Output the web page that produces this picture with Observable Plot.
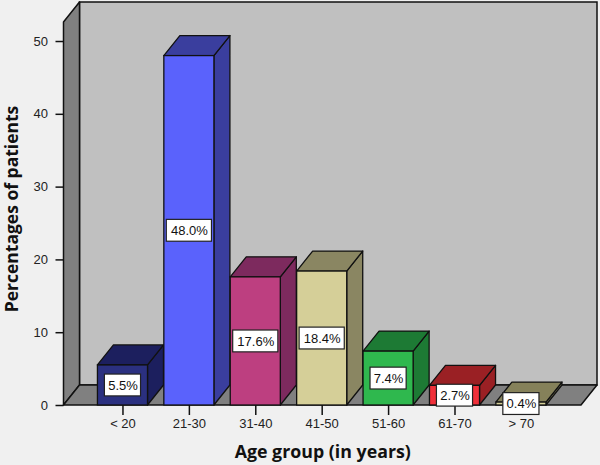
<!DOCTYPE html>
<html>
<head>
<meta charset="utf-8">
<script src="https://cdn.jsdelivr.net/npm/d3@7"></script>
<script src="https://cdn.jsdelivr.net/npm/@observablehq/plot@0.6"></script>
<style>
html,body{margin:0;padding:0;background:#f0f0f0;}
svg{display:block;}
</style>
</head>
<body>
<div id="chart"></div>
<script>
const categories = ["< 20","21-30","31-40","41-50","51-60","61-70","> 70"];
const values = [5.5,48.0,17.6,18.4,7.4,2.7,0.4];
const frontColors = ["#2b3080","#5a62fc","#bd3f80","#d5cf98","#2fb84e","#f0303a","#d5cf98"];
const darkColors = ["#1c1f5e","#3a3e9e","#7d2a5e","#8a8662","#1d7a34","#9a2024","#85815a"];
const yTicks = [0,10,20,30,40,50];

const halfBar = 0.377, depthX = 0.241, depthY = 2.75;
const xMin = -0.888, xMax = 7.146, yMax = 55.36;
const edge = "#111";

const bars = values.map((v,i)=>({i,v,cat:categories[i],front:frontColors[i],dark:darkColors[i],
  l:i-halfBar,r:i+halfBar,label:v.toFixed(1)+"%"}));
const sides = bars.flatMap(b=>[
  {i:b.i,fill:b.dark,x:b.r,y1:0,y2:b.v},
  {i:b.i,fill:b.dark,x:b.r+depthX,y1:depthY,y2:b.v+depthY}]);
const tops = bars.flatMap(b=>[
  {i:b.i,fill:b.dark,y:b.v,x1:b.l,x2:b.r},
  {i:b.i,fill:b.dark,y:b.v+depthY,x1:b.l+depthX,x2:b.r+depthX}]);
const leftWall = [
  {x:xMin,y1:0,y2:yMax-depthY},
  {x:xMin+depthX,y1:depthY,y2:yMax}];
const floor = [
  {y:0,x1:xMin,x2:xMax-depthX},
  {y:depthY,x1:xMin+depthX,x2:xMax}];

const chart = Plot.plot({
  width:600,height:465,
  marginLeft:63.5,marginRight:3,marginTop:2,marginBottom:60,
  style:{background:"#f0f0f0",fontFamily:"'Liberation Sans',Arial,sans-serif",fontSize:"13px",color:"#222"},
  x:{type:"linear",domain:[xMin,xMax],label:null},
  y:{type:"linear",domain:[0,yMax],label:null},
  marks:[
    Plot.rect([0],{x1:xMin+depthX,x2:xMax,y1:depthY,y2:yMax,fill:"#c0c0c0",stroke:edge,strokeWidth:1.5}),
    Plot.areaY(leftWall,{x:"x",y1:"y1",y2:"y2",fill:"#808080",stroke:edge,strokeWidth:1.5}),
    Plot.areaX(floor,{y:"y",x1:"x1",x2:"x2",fill:"#808080",stroke:edge,strokeWidth:1.5}),
    Plot.axisY({ticks:yTicks,tickSize:8,tickPadding:8,tickFormat:d=>String(d),strokeWidth:1.5,stroke:"#111",fontSize:13,label:null}),
    Plot.axisX({ticks:d3.range(categories.length),tickSize:10,tickPadding:3,tickFormat:i=>categories[i],strokeWidth:1.5,stroke:"#111",fontSize:13,label:null}),
    Plot.areaY(sides,{x:"x",y1:"y1",y2:"y2",z:"i",fill:"fill",stroke:edge,strokeWidth:1.3}),
    Plot.areaX(tops,{y:"y",x1:"x1",x2:"x2",z:"i",fill:"fill",stroke:edge,strokeWidth:1.3}),
    Plot.rect(bars,{x1:"l",x2:"r",y1:0,y2:"v",fill:"front",stroke:edge,strokeWidth:1.3}),
    Plot.rect(bars,{
      x1:d=>d.i-d.label.length*0.068,x2:d=>d.i+d.label.length*0.068,
      y1:d=>d.v/2-1.5,y2:d=>d.v/2+1.5,
      fill:"white",stroke:"#222",strokeWidth:1.2}),
    Plot.text(bars,{x:"i",y:d=>d.v/2,text:"label",fill:"#111",fontSize:13}),
    Plot.text(["Percentages of patients"],{frameAnchor:"left",textAnchor:"middle",rotate:-90,dx:-51.5,dy:5,fontWeight:"bold",fontSize:17.5,fontFamily:"'Open Sans',sans-serif",fill:"#111"}),
    Plot.text(["Age group (in years)"],{frameAnchor:"bottom",dx:-8,dy:52,fontWeight:"bold",fontSize:17.8,fontFamily:"'Open Sans',sans-serif",fill:"#111"})
  ]
});
document.getElementById("chart").appendChild(chart);
</script>
</body>
</html>
